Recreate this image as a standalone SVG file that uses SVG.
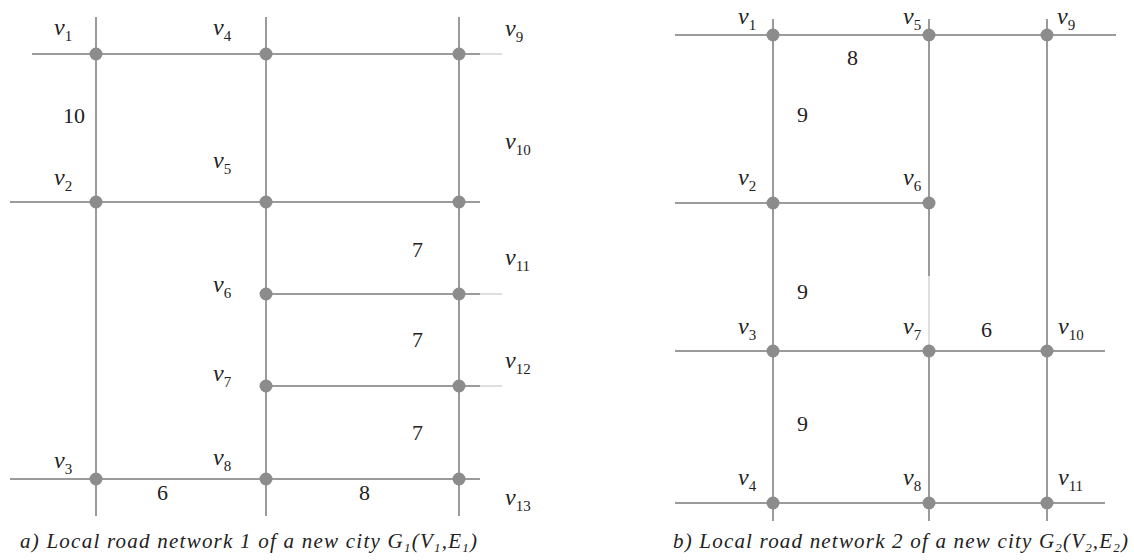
<svg xmlns="http://www.w3.org/2000/svg" width="1134" height="560" viewBox="0 0 1134 560">
<rect width="1134" height="560" fill="#fff"/>
<g id="connectors" stroke="#9b9b9b" stroke-width="2" fill="none">
<line x1="32" y1="54" x2="480" y2="54"/>
<line x1="10" y1="202" x2="480" y2="202"/>
<line x1="266" y1="294" x2="480" y2="294"/>
<line x1="266" y1="386" x2="480" y2="386"/>
<line x1="10" y1="479" x2="480" y2="479"/>
<line x1="96" y1="17" x2="96" y2="516"/>
<line x1="266" y1="17" x2="266" y2="516"/>
<line x1="459" y1="17" x2="459" y2="516"/>
<line x1="675" y1="35" x2="1116" y2="35"/>
<line x1="675" y1="203" x2="929" y2="203"/>
<line x1="675" y1="351" x2="1105" y2="351"/>
<line x1="675" y1="503" x2="1105" y2="503"/>
<line x1="773" y1="19" x2="773" y2="521"/>
<line x1="929" y1="19" x2="929" y2="276"/>
<line x1="929" y1="346" x2="929" y2="521"/>
<line x1="1047" y1="19" x2="1047" y2="521"/>
<g stroke="#dedede">
<line x1="480" y1="54" x2="502" y2="54"/>
<line x1="480" y1="294" x2="502" y2="294"/>
<line x1="480" y1="386" x2="502" y2="386"/>
<line x1="929" y1="276" x2="929" y2="346"/>
</g>
</g>
<g id="G1" fill="#222" font-family="Liberation Serif">
<g id="a-v1"><circle fill="#8c8c8c" cx="96" cy="54" r="6.5"/><text font-family="Liberation Serif" font-style="italic" font-size="24" x="54" y="35">v<tspan font-size="15" font-style="normal" dy="6">1</tspan></text></g>
<g id="a-v4"><circle fill="#8c8c8c" cx="266" cy="54" r="6.5"/><text font-family="Liberation Serif" font-style="italic" font-size="24" x="213" y="35">v<tspan font-size="15" font-style="normal" dy="6">4</tspan></text></g>
<g id="a-v9"><circle fill="#8c8c8c" cx="459" cy="54" r="6.5"/><text font-family="Liberation Serif" font-style="italic" font-size="24" x="505" y="36">v<tspan font-size="15" font-style="normal" dy="6">9</tspan></text></g>
<g id="a-v2"><circle fill="#8c8c8c" cx="96" cy="202" r="6.5"/><text font-family="Liberation Serif" font-style="italic" font-size="24" x="54" y="185">v<tspan font-size="15" font-style="normal" dy="6">2</tspan></text></g>
<g id="a-v5"><circle fill="#8c8c8c" cx="266" cy="202" r="6.5"/><text font-family="Liberation Serif" font-style="italic" font-size="24" x="213" y="168">v<tspan font-size="15" font-style="normal" dy="6">5</tspan></text></g>
<g id="a-v10"><circle fill="#8c8c8c" cx="459" cy="202" r="6.5"/><text font-family="Liberation Serif" font-style="italic" font-size="24" x="505" y="149">v<tspan font-size="15" font-style="normal" dy="6">10</tspan></text></g>
<g id="a-v6"><circle fill="#8c8c8c" cx="266" cy="294" r="6.5"/><text font-family="Liberation Serif" font-style="italic" font-size="24" x="213" y="292">v<tspan font-size="15" font-style="normal" dy="6">6</tspan></text></g>
<g id="a-v11"><circle fill="#8c8c8c" cx="459" cy="294" r="6.5"/><text font-family="Liberation Serif" font-style="italic" font-size="24" x="505" y="265">v<tspan font-size="15" font-style="normal" dy="6">11</tspan></text></g>
<g id="a-v7"><circle fill="#8c8c8c" cx="266" cy="386" r="6.5"/><text font-family="Liberation Serif" font-style="italic" font-size="24" x="213" y="381">v<tspan font-size="15" font-style="normal" dy="6">7</tspan></text></g>
<g id="a-v12"><circle fill="#8c8c8c" cx="459" cy="386" r="6.5"/><text font-family="Liberation Serif" font-style="italic" font-size="24" x="505" y="368">v<tspan font-size="15" font-style="normal" dy="6">12</tspan></text></g>
<g id="a-v3"><circle fill="#8c8c8c" cx="96" cy="479" r="6.5"/><text font-family="Liberation Serif" font-style="italic" font-size="24" x="54" y="468">v<tspan font-size="15" font-style="normal" dy="6">3</tspan></text></g>
<g id="a-v8"><circle fill="#8c8c8c" cx="266" cy="479" r="6.5"/><text font-family="Liberation Serif" font-style="italic" font-size="24" x="213" y="465">v<tspan font-size="15" font-style="normal" dy="6">8</tspan></text></g>
<g id="a-v13"><circle fill="#8c8c8c" cx="459" cy="479" r="6.5"/><text font-family="Liberation Serif" font-style="italic" font-size="24" x="505" y="505">v<tspan font-size="15" font-style="normal" dy="6">13</tspan></text></g>
<g id="a-weights" font-family="Liberation Serif" font-size="22">
<text font-family="Liberation Serif" x="63" y="123">10</text>
<text font-family="Liberation Serif" x="412" y="257">7</text>
<text font-family="Liberation Serif" x="412" y="347">7</text>
<text font-family="Liberation Serif" x="412" y="440">7</text>
<text font-family="Liberation Serif" x="157" y="500">6</text>
<text font-family="Liberation Serif" x="359" y="500">8</text>
</g>
<text id="cap-a" font-family="Liberation Serif" font-style="italic" font-size="21" x="20" y="548" textLength="457" lengthAdjust="spacing">a) Local road network 1 of a new city G<tspan font-size="13" dy="4">1</tspan><tspan dy="-4">(V</tspan><tspan font-size="13" dy="4">1</tspan><tspan dy="-4">,E</tspan><tspan font-size="13" dy="4">1</tspan><tspan dy="-4">)</tspan></text>
</g>
<g id="G2" fill="#222" font-family="Liberation Serif">
<g id="b-v1"><circle fill="#8c8c8c" cx="773" cy="35" r="6.5"/><text font-family="Liberation Serif" font-style="italic" font-size="24" x="738" y="24">v<tspan font-size="15" font-style="normal" dy="6">1</tspan></text></g>
<g id="b-v5"><circle fill="#8c8c8c" cx="929" cy="35" r="6.5"/><text font-family="Liberation Serif" font-style="italic" font-size="24" x="903" y="24">v<tspan font-size="15" font-style="normal" dy="6">5</tspan></text></g>
<g id="b-v9"><circle fill="#8c8c8c" cx="1047" cy="35" r="6.5"/><text font-family="Liberation Serif" font-style="italic" font-size="24" x="1057" y="24">v<tspan font-size="15" font-style="normal" dy="6">9</tspan></text></g>
<g id="b-v2"><circle fill="#8c8c8c" cx="773" cy="203" r="6.5"/><text font-family="Liberation Serif" font-style="italic" font-size="24" x="738" y="185">v<tspan font-size="15" font-style="normal" dy="6">2</tspan></text></g>
<g id="b-v6"><circle fill="#8c8c8c" cx="929" cy="203" r="6.5"/><text font-family="Liberation Serif" font-style="italic" font-size="24" x="903" y="185">v<tspan font-size="15" font-style="normal" dy="6">6</tspan></text></g>
<g id="b-v3"><circle fill="#8c8c8c" cx="773" cy="351" r="6.5"/><text font-family="Liberation Serif" font-style="italic" font-size="24" x="738" y="334">v<tspan font-size="15" font-style="normal" dy="6">3</tspan></text></g>
<g id="b-v7"><circle fill="#8c8c8c" cx="929" cy="351" r="6.5"/><text font-family="Liberation Serif" font-style="italic" font-size="24" x="903" y="334">v<tspan font-size="15" font-style="normal" dy="6">7</tspan></text></g>
<g id="b-v10"><circle fill="#8c8c8c" cx="1047" cy="351" r="6.5"/><text font-family="Liberation Serif" font-style="italic" font-size="24" x="1058" y="334">v<tspan font-size="15" font-style="normal" dy="6">10</tspan></text></g>
<g id="b-v4"><circle fill="#8c8c8c" cx="773" cy="503" r="6.5"/><text font-family="Liberation Serif" font-style="italic" font-size="24" x="738" y="485">v<tspan font-size="15" font-style="normal" dy="6">4</tspan></text></g>
<g id="b-v8"><circle fill="#8c8c8c" cx="929" cy="503" r="6.5"/><text font-family="Liberation Serif" font-style="italic" font-size="24" x="903" y="485">v<tspan font-size="15" font-style="normal" dy="6">8</tspan></text></g>
<g id="b-v11"><circle fill="#8c8c8c" cx="1047" cy="503" r="6.5"/><text font-family="Liberation Serif" font-style="italic" font-size="24" x="1058" y="485">v<tspan font-size="15" font-style="normal" dy="6">11</tspan></text></g>
<g id="b-weights" font-family="Liberation Serif" font-size="22">
<text font-family="Liberation Serif" x="847" y="65">8</text>
<text font-family="Liberation Serif" x="797" y="122">9</text>
<text font-family="Liberation Serif" x="797" y="299">9</text>
<text font-family="Liberation Serif" x="797" y="431">9</text>
<text font-family="Liberation Serif" x="981" y="337">6</text>
</g>
<text id="cap-b" font-family="Liberation Serif" font-style="italic" font-size="21" x="673" y="548" textLength="455" lengthAdjust="spacing">b) Local road network 2 of a new city G<tspan font-size="13" dy="4">2</tspan><tspan dy="-4">(V</tspan><tspan font-size="13" dy="4">2</tspan><tspan dy="-4">,E</tspan><tspan font-size="13" dy="4">2</tspan><tspan dy="-4">)</tspan></text>
</g>
</svg>
